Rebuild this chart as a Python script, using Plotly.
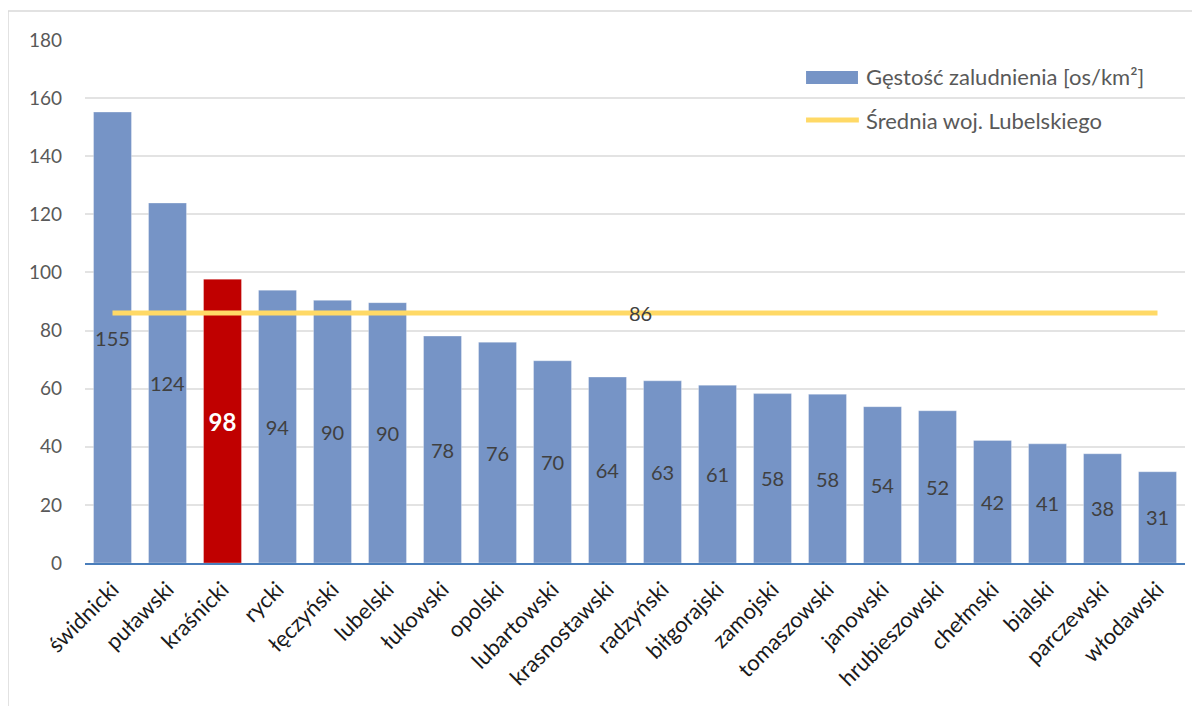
import plotly.graph_objects as go

categories = ["świdnicki", "puławski", "kraśnicki", "rycki", "łęczyński", "lubelski",
              "łukowski", "opolski", "lubartowski", "krasnostawski", "radzyński",
              "biłgorajski", "zamojski", "tomaszowski", "janowski", "hrubieszowski",
              "chełmski", "bialski", "parczewski", "włodawski"]
density = [155.2, 123.9, 97.7, 93.9, 90.4, 89.6, 78.1, 76.0, 69.6, 64.0, 62.7,
           61.2, 58.3, 58.1, 53.8, 52.4, 42.2, 41.0, 37.6, 31.4]
average = 86
highlight = "kraśnicki"
yticks = [0, 20, 40, 60, 80, 100, 120, 140, 160, 180]
bar_name = "Gęstość zaludnienia [os/km²]"
line_name = "Średnia woj. Lubelskiego"

FONT = "Lato"
BLUE = "rgb(118,148,198)"
RED = "#C00000"
YELLOW = "#FFD966"

colors = [RED if c == highlight else BLUE for c in categories]
texts = [f"<b>{v:.0f}</b>" if c == highlight else f"{v:.0f}" for c, v in zip(categories, density)]
tcolors = ["white" if c == highlight else "#404040" for c in categories]
tsizes = [24 if c == highlight else 20 for c in categories]

fig = go.Figure()
fig.add_trace(go.Bar(
    x=categories, y=density, name=bar_name,
    marker=dict(color=colors, line=dict(color="rgba(255,255,255,0.3)", width=1)),
    text=texts, textposition="inside", insidetextanchor="middle", textangle=0,
    constraintext="none",
    textfont=dict(color=tcolors, size=tsizes, family=FONT),
    showlegend=False,
))
fig.add_trace(go.Scatter(
    x=categories, y=[average] * len(categories), mode="lines",
    name=line_name,
    line=dict(color=YELLOW, width=5),
    showlegend=False,
))
fig.add_annotation(x=9.6, y=average, text=f"{average}", showarrow=False,
                   font=dict(family=FONT, size=20, color="#404040"))

# chart border
fig.add_shape(type="rect", xref="paper", yref="paper", x0=-0.07, x1=1.2,
              y0=-0.5, y1=1.0555, line=dict(color="#D9D9D9", width=1.5),
              fillcolor="rgba(0,0,0,0)", layer="below")

# legend (drawn manually to match wide legend keys)
fig.add_shape(type="rect", xref="paper", yref="paper", x0=0.6555, x1=0.7027,
              y0=0.916, y1=0.9405, line=dict(width=0), fillcolor=BLUE)
fig.add_annotation(xref="paper", yref="paper", x=0.708, y=0.9293, xanchor="left",
                   yanchor="middle", text=bar_name, showarrow=False,
                   font=dict(family=FONT, size=22, color="#595959"))
fig.add_shape(type="line", xref="paper", yref="paper", x0=0.6555, x1=0.7035,
              y0=0.847, y1=0.847, line=dict(color=YELLOW, width=5))
fig.add_annotation(xref="paper", yref="paper", x=0.708, y=0.847, xanchor="left",
                   yanchor="middle", text=line_name, showarrow=False,
                   font=dict(family=FONT, size=22, color="#595959"))

fig.update_layout(
    width=1200, height=706,
    margin=dict(l=77, r=23, t=32, b=151, autoexpand=False),
    paper_bgcolor="white", plot_bgcolor="white",
    bargap=0.31,
    font=dict(family=FONT, color="#595959", size=18),
    showlegend=False,
    xaxis=dict(type="category", tickangle=-45, showgrid=False, automargin=False,
               showline=True, linecolor="#4A7EBB", linewidth=1.5,
               ticks="", ticklabelstandoff=3,
               tickfont=dict(size=22, color="#1A1A1A")),
    yaxis=dict(range=[0, 180], tickvals=yticks, showgrid=True, automargin=False,
               gridcolor="#E3E3E3", gridwidth=1.5, zeroline=False,
               showline=False, ticks="", ticklabelstandoff=22,
               tickfont=dict(size=19, color="#595959")),
)

fig.write_html("out.html")
